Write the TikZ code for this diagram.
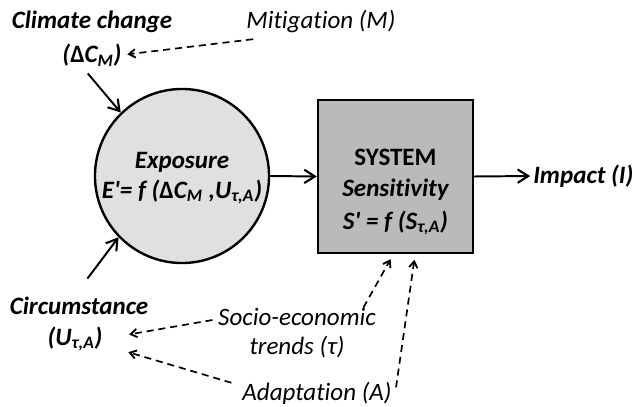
\documentclass[tikz,border=0pt]{standalone}
\usepackage{fontspec}
\setmainfont{Carlito}[Ligatures={NoCommon}]
\usetikzlibrary{arrows.meta}
\definecolor{expfill}{gray}{0.88}
\definecolor{sysfill}{gray}{0.73}
\begin{document}
\begin{tikzpicture}[x=0.025cm, y=0.025cm]
    \tikzstyle{every node}+=[inner sep=0pt, align=center, font=\fontsize{17.8}{21}\selectfont\bfseries\itshape]
    \tikzstyle{flow}=[line width=1.4pt, -{Straight Barb[length=7.5pt,width=9.5pt,line width=1.5pt]}]
    \tikzstyle{driver}=[line width=1.2pt, dash pattern=on 5pt off 3.5pt, -{Straight Barb[length=4.5pt,width=6pt,line width=1.3pt]}]
    \useasboundingbox (0,0) rectangle (634,-407);
    \node [circle, draw, line width=1.7pt, fill=expfill, minimum size=4.35cm] (exp) at (182,-176) {};
    \node at (182,-162) (explab) {Exposure};
    \node at (182,-192) (expfun) {E\textquotesingle= \textit{f} ({\upshape Δ}\textit{C}\textsubscript{\textit{M}} ,U\textsubscript{\textit{τ,A}})};
    \node [rectangle, draw, line width=1.7pt, fill=sysfill, minimum width=3.875cm, minimum height=3.825cm] (sys) at (395.5,-176.5) {};
    \node at (395.5,-157) (syslab) {\upshape SYSTEM};
    \node at (395.5,-190) (senslab) {Sensitivity};
    \node at (395.5,-223) (sensfun) {S\textquotesingle{} = \textit{f} (S\textsubscript{\textit{τ,A}})};
    \node [anchor=west] at (533,-176) (imp) {Impact (\textit{I})};
    \node at (92,-22) (cc) {Climate change};
    \node at (92,-55) (dcm) {({\upshape Δ}\textit{C}\textsubscript{\textit{M}})};
    \node at (321,-22) (mit) {\mdseries Mitigation (\textit{M})};
    \node at (79,-306) (circ) {Circumstance};
    \node at (75,-339) (ucirc) {(U\textsubscript{\textit{τ,A}})};
    \node at (297,-333) (soc) {\mdseries Socio-economic\\\mdseries trends (τ)};
    \node at (317,-393) (ada) {\mdseries Adaptation (\textit{A})};
    \draw [flow] (exp.east) -- (sys.west);
    \draw [flow, shorten >=2pt] (sys.east) -- (imp.west);
    \draw [flow] ([shift={(-3pt,-5pt)}]dcm.south) -- (exp.134);
    \draw [flow] ([shift={(6pt,13pt)}]circ.north) -- (exp.224);
    \draw [driver, shorten >=4pt] ([shift={(5pt,-4pt)}]mit.south west) -- (dcm.east);
    \draw [driver, shorten <=4pt, shorten >=19pt] (soc.170) -- (ucirc.east);
    \draw [driver, shorten <=8pt, shorten >=19pt] ([yshift=5pt]ada.west) -- ([yshift=-4pt]ucirc.east);
    \draw [driver, shorten >=4pt] ([xshift=-9pt]soc.north east) -- ([xshift=-1.5pt]sys.south);
    \draw [driver, shorten >=4pt] ([shift={(3pt,4pt)}]ada.east) -- ([xshift=14pt]sys.south);
\end{tikzpicture}
\end{document}
